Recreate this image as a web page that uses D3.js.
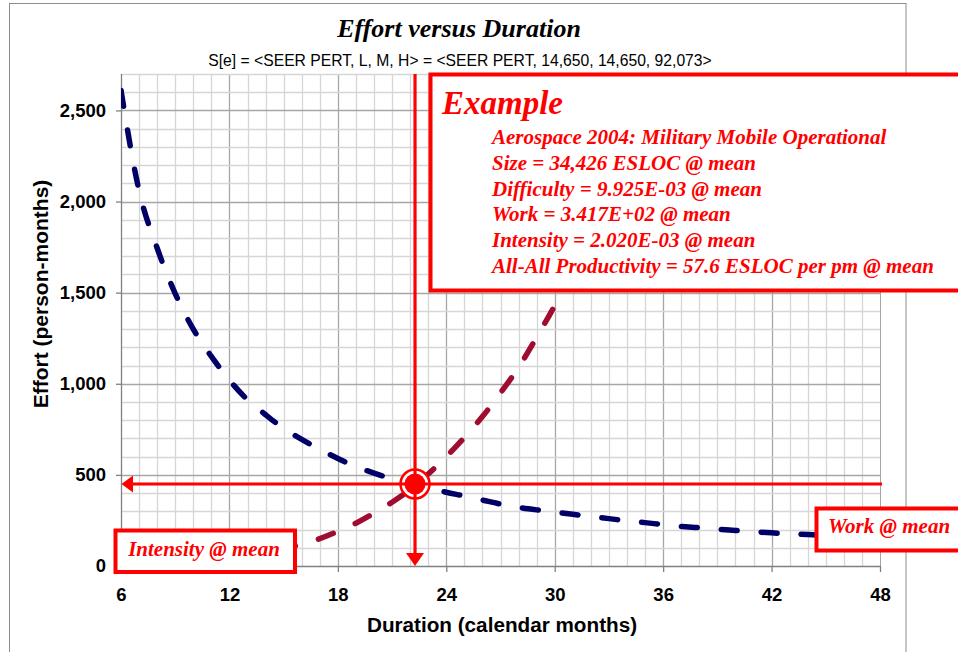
<!DOCTYPE html>
<html>
<head>
<meta charset="utf-8">
<script src="https://cdn.jsdelivr.net/npm/d3@7"></script>
<style>
  body { margin: 0; background: #fff; }
  svg { display: block; }
</style>
</head>
<body>
<div id="chart"></div>
<script>
// values
const months = [6,7,8,9,10,11,12,13,14,15,16,17,18,19,20,21,22,23,24,25,26,27,
  28,29,30,31,32,33,34,35,36,37,38,39,40,41,42,43,44,45,46,47,48];
const workEffort = [2610,2060,1745,1495,1300,1150,1020,912,830,755,695,640,590,545,
  510,478,452,428,405,384,362,340,322,308,296,284,271,260,248,238,227,217,210,202,
  195,188,182,177,173,168,163,159,155];
const intensityMonths = [6,7,8,9,10,11,12,13,14,15,16,17,18,19,20,21,22,23,24,25,
  26,27,28,29,30,31,32,33,34,35,36];
const intensityEffort = [2.4,4.4,7.5,12,18,27,38,52,70,93,120,150,190,235,290,350,
  420,505,600,705,820,950,1090,1255,1430,1630,1850,2090,2350,2640,2950];
const xTicks = [6,12,18,24,30,36,42,48];
const yTicks = [0,500,1000,1500,2000,2500];
const meanDuration = 22.27;
const meanEffort = 450;

const title = "Effort versus Duration";
const subtitle = "S[e] = <SEER PERT, L, M, H> = <SEER PERT, 14,650, 14,650, 92,073>";
const exampleLines = [
  "Aerospace 2004: Military Mobile Operational",
  "Size = 34,426 ESLOC @ mean",
  "Difficulty = 9.925E-03 @ mean",
  "Work = 3.417E+02 @ mean",
  "Intensity = 2.020E-03 @ mean",
  "All-All Productivity = 57.6 ESLOC per pm @ mean"
];

const w = 958, h = 652;
const pLeft = 121, pRight = 880, pTop = 74, pBottom = 566;
const serif = "'Liberation Serif', 'Times New Roman', serif";
const sans = "'Liberation Sans', Arial, sans-serif";
const red = "#ff0000";

const svg = d3.select("#chart").append("svg")
  .attr("width", w).attr("height", h);

// outer chart frame
svg.append("rect")
  .attr("x", 9.5).attr("y", 3.5).attr("width", 896.5).attr("height", 700)
  .attr("fill", "#fff").attr("stroke", "#8c8c8c");

const x = d3.scaleLinear().domain([6, 48]).range([pLeft, pRight]);
const y = d3.scaleLinear().domain([0, 2700]).range([pBottom, pTop]);

// grid
const grid = svg.append("g");
grid.selectAll(".vmin").data(d3.range(7, 48)).join("line")
  .attr("x1", d => Math.round(x(d)) + 0.5).attr("x2", d => Math.round(x(d)) + 0.5)
  .attr("y1", pTop).attr("y2", pBottom)
  .attr("stroke", d => d % 6 === 0 ? "#a6a6a6" : "#d6d6d6").attr("stroke-width", 1.3);
grid.selectAll(".hmin").data(d3.range(100, 2800, 100)).join("line")
  .attr("x1", pLeft).attr("x2", pRight)
  .attr("y1", d => Math.round(y(d)) + 0.5).attr("y2", d => Math.round(y(d)) + 0.5)
  .attr("stroke", d => d % 500 === 0 ? "#a6a6a6" : "#d6d6d6").attr("stroke-width", 1.3);
grid.append("line")
  .attr("x1", Math.round(x(48)) + 0.5).attr("x2", Math.round(x(48)) + 0.5)
  .attr("y1", pTop).attr("y2", pBottom).attr("stroke", "#a6a6a6");

// axes
const xAxis = svg.append("g").attr("transform", `translate(0,${pBottom})`)
  .call(d3.axisBottom(x).tickValues(xTicks).tickSize(6).tickPadding(16));
const yAxis = svg.append("g").attr("transform", `translate(${pLeft},0)`)
  .call(d3.axisLeft(y).tickValues(yTicks).tickSize(5).tickPadding(10)
    .tickFormat(d3.format(",")));
[xAxis, yAxis].forEach(a => {
  a.select(".domain").attr("stroke", "#808080").attr("stroke-width", 1.3);
  a.selectAll(".tick line").attr("stroke", "#808080").attr("stroke-width", 1.3);
  a.selectAll("text").attr("font-family", sans).attr("font-size", 18.5)
    .attr("font-weight", "bold").attr("fill", "#000");
});
xAxis.select(".domain").attr("d", `M${pLeft},0.5H${pRight + 1}`);
yAxis.select(".domain").attr("d", `M0.5,${pTop}V${pBottom}`);

// titles
svg.append("text").attr("x", 459).attr("y", 37).attr("text-anchor", "middle")
  .attr("font-family", serif).attr("font-size", 26).attr("font-weight", "bold")
  .attr("font-style", "italic").text(title);
svg.append("text").attr("x", 460).attr("y", 66).attr("text-anchor", "middle")
  .attr("font-family", sans).attr("font-size", 15.7).text(subtitle);
svg.append("text").attr("x", 502).attr("y", 632).attr("text-anchor", "middle")
  .attr("font-family", sans).attr("font-size", 20.7).attr("font-weight", "bold")
  .text("Duration (calendar months)");
svg.append("text").attr("transform", "translate(48,294) rotate(-90)")
  .attr("text-anchor", "middle")
  .attr("font-family", sans).attr("font-size", 21).attr("font-weight", "bold")
  .text("Effort (person-months)");

// curves
svg.append("clipPath").attr("id", "plot").append("rect")
  .attr("x", pLeft).attr("y", pTop).attr("width", pRight - pLeft).attr("height", pBottom - pTop);
const line = d3.line().x(d => x(d[0])).y(d => y(d[1])).curve(d3.curveMonotoneX);
const curves = svg.append("g").attr("clip-path", "url(#plot)");
curves.append("path")
  .attr("d", line(intensityMonths.map((m, i) => [m, intensityEffort[i]])))
  .attr("fill", "none").attr("stroke", "#a00b30").attr("stroke-width", 5.5)
  .attr("stroke-linecap", "round").attr("stroke-dasharray", "16 24");
curves.append("path")
  .attr("d", line(months.map((m, i) => [m, workEffort[i]])))
  .attr("fill", "none").attr("stroke", "#000066").attr("stroke-width", 5.5)
  .attr("stroke-linecap", "round").attr("stroke-dasharray", "16 24");

// mean marker and cross hairs
const mx = x(meanDuration), my = y(meanEffort);
svg.append("circle").attr("cx", mx).attr("cy", my).attr("r", 14.5)
  .attr("fill", "#fff").attr("stroke", red).attr("stroke-width", 2.5);
svg.append("circle").attr("cx", mx).attr("cy", my).attr("r", 10.5).attr("fill", red);
svg.append("line").attr("x1", pLeft + 11).attr("x2", pRight + 2).attr("y1", my).attr("y2", my)
  .attr("stroke", red).attr("stroke-width", 3.2);
svg.append("path").attr("d", `M${pLeft + 0.5},${my}L${pLeft + 12},${my - 8.5}L${pLeft + 12},${my + 8.5}Z`)
  .attr("fill", red);
svg.append("line").attr("x1", mx).attr("x2", mx).attr("y1", pTop).attr("y2", pBottom - 12)
  .attr("stroke", red).attr("stroke-width", 3.2);
svg.append("path").attr("d", `M${mx},${pBottom}L${mx - 9},${pBottom - 13}L${mx + 9},${pBottom - 13}Z`)
  .attr("fill", red);

// callout boxes
function box(bx, by, bw, bh) {
  svg.append("rect").attr("x", bx).attr("y", by).attr("width", bw).attr("height", bh)
    .attr("fill", "#fff").attr("stroke", red).attr("stroke-width", 4);
}
function redText(tx, ty, size, str) {
  return svg.append("text").attr("x", tx).attr("y", ty)
    .attr("font-family", serif).attr("font-size", size).attr("font-weight", "bold")
    .attr("font-style", "italic").attr("fill", red).text(str);
}
box(115.5, 530.5, 179.5, 41.5);
redText(204, 556, 21, "Intensity @ mean").attr("text-anchor", "middle");
box(816.5, 508.5, 200, 42);
redText(828, 533, 21, "Work @ mean");

box(430.5, 74.5, 600, 216);
redText(442, 114, 33, "Example");
exampleLines.forEach((s, i) => redText(492, 144 + i * 25.8, 21, s));
</script>
</body>
</html>
